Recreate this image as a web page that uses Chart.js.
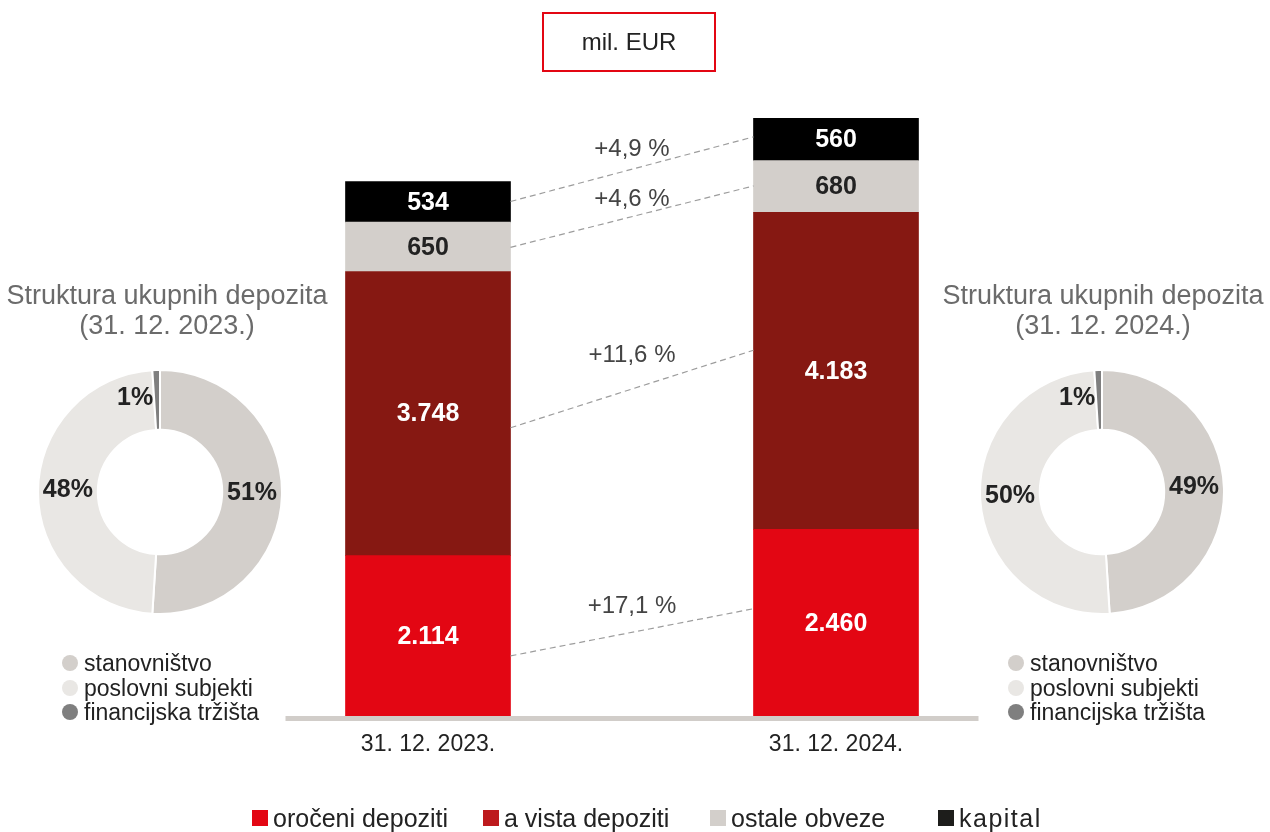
<!DOCTYPE html>
<html>
<head>
<meta charset="utf-8">
<script src="https://cdn.jsdelivr.net/npm/chart.js@4.4.1/dist/chart.umd.min.js"></script>
<style>
  body { margin: 0; width: 1270px; height: 832px; position: relative; overflow: hidden; background: #fff;
         font-family: 'Liberation Sans', Arial, sans-serif; color: #222; }
  canvas { position: absolute; }
  #barChart { left: 0; top: 0; }
  #pieLeft { left: 37px; top: 369px; }
  #pieRight { left: 979px; top: 369px; }
  .unit { position: absolute; left: 542px; top: 12px; width: 170px; height: 56px; border: 2px solid #e30613;
          text-align: center; line-height: 56px; font-size: 24px; }
  .title { position: absolute; top: 280px; width: 340px; text-align: center; font-size: 27px; line-height: 30px;
           color: #6b6b6b; white-space: nowrap; }
  .pieLegend { position: absolute; top: 651px; font-size: 23px; line-height: 24.5px; white-space: nowrap; }
  .pieLegend div { display: flex; align-items: center; }
  .pieLegend span.dot { width: 16px; height: 16px; border-radius: 50%; margin-right: 6px; display: inline-block; }
  .barLegend { position: absolute; top: 806px; font-size: 25px; line-height: 24px; display: flex; align-items: center; white-space: nowrap; }
  .barLegend span.box { width: 16px; height: 16px; margin-right: 5px; display: inline-block; }
</style>
</head>
<body>
<canvas id="barChart" width="1270" height="832"></canvas>
<canvas id="pieLeft" width="246" height="246"></canvas>
<canvas id="pieRight" width="246" height="246"></canvas>
<div class="unit">mil. EUR</div>
<div class="title" style="left:-3px">Struktura ukupnih depozita<br>(31. 12. 2023.)</div>
<div class="title" style="left:933px">Struktura ukupnih depozita<br>(31. 12. 2024.)</div>
<div class="pieLegend" id="legLeft" style="left:62px"></div>
<div class="pieLegend" id="legRight" style="left:1008px"></div>
<div id="barLegend"></div>
<script>
// bar chart data (mil. EUR)
const dates = ['31. 12. 2023.', '31. 12. 2024.'];
const seriesNames = ['oročeni depoziti', 'a vista depoziti', 'ostale obveze', 'kapital'];
const orocheni = [2114, 2460];
const aVista = [3748, 4183];
const ostale = [650, 680];
const kapital = [534, 560];
const growth = ['+17,1 %', '+11,6 %', '+4,6 %', '+4,9 %'];

// deposit structure (%)
const pieNames = ['stanovništvo', 'poslovni subjekti', 'financijska tržišta'];
const pie2023 = [51, 48, 1];
const pie2024 = [49, 50, 1];

const barColors = ['#e30613', '#861812', '#d3cfcb', '#000000'];
const legendColors = ['#e30613', '#bd1a1d', '#d3cfcb', '#1d1d1b'];
const valueColors = ['#ffffff', '#ffffff', '#222222', '#ffffff'];
const pieColors = ['#d3cfcb', '#e9e7e4', '#7f7f7f'];
const FONT = "'Liberation Sans', Arial, sans-serif";

// dashed connector anchors (fraction of segment height, from the bottom)
const linkFrom = [0.375, 0.45, 0.49, 0.51];
const linkTo = [0.575, 0.565, 0.51, 0.56];
const labelLift = [26, 34, 17, 20];

function fmt(v) {
    return String(v).replace(/\B(?=(\d{3})+(?!\d))/g, '.');
}

const baseLine = {
    id: 'baseLine',
    beforeDatasetsDraw(chart) {
        const ctx = chart.ctx;
        const xs = chart.scales.x;
        const left = xs.getPixelForValue(0) - 142.5;
        const right = xs.getPixelForValue(1) + 142.5;
        ctx.save();
        ctx.fillStyle = '#d1cdc9';
        ctx.fillRect(left, chart.chartArea.bottom, right - left, 5);
        ctx.restore();
    }
};

const barValues = {
    id: 'barValues',
    afterDatasetsDraw(chart) {
        const ctx = chart.ctx;
        ctx.save();
        ctx.font = 'bold 25px ' + FONT;
        ctx.textAlign = 'center';
        ctx.textBaseline = 'middle';
        chart.data.datasets.forEach((ds, i) => {
            chart.getDatasetMeta(i).data.forEach((bar, j) => {
                ctx.fillStyle = valueColors[i];
                ctx.fillText(fmt(ds.data[j]), bar.x, (bar.y + bar.base) / 2 + 1);
            });
        });

        // growth connectors
        ctx.font = '24px ' + FONT;
        chart.data.datasets.forEach((ds, i) => {
            const [b1, b2] = chart.getDatasetMeta(i).data;
            const x1 = b1.x + b1.width / 2;
            const y1 = b1.base + (b1.y - b1.base) * linkFrom[i];
            const x2 = b2.x - b2.width / 2;
            const y2 = b2.base + (b2.y - b2.base) * linkTo[i];
            ctx.strokeStyle = '#9d9d9d';
            ctx.lineWidth = 1.2;
            ctx.setLineDash([6, 4]);
            ctx.beginPath();
            ctx.moveTo(x1, y1);
            ctx.lineTo(x2, y2);
            ctx.stroke();
            ctx.fillStyle = '#444';
            ctx.fillText(growth[i], (x1 + x2) / 2, (y1 + y2) / 2 - labelLift[i]);
        });
        ctx.restore();
    }
};

new Chart(document.getElementById('barChart'), {
    type: 'bar',
    data: {
        labels: dates,
        datasets: [orocheni, aVista, ostale, kapital].map((d, i) => ({
            label: seriesNames[i],
            data: d,
            backgroundColor: barColors[i],
            borderWidth: 0,
            barThickness: 165
        }))
    },
    options: {
        responsive: false,
        animation: false,
        events: [],
        layout: { padding: { left: 224, right: 230, top: 79, bottom: 66 } },
        plugins: { legend: { display: false }, tooltip: { enabled: false } },
        scales: {
            x: {
                stacked: true,
                offset: true,
                grid: { display: false, drawTicks: false },
                border: { display: false },
                ticks: { color: '#222', font: { family: FONT, size: 23 }, padding: 15 },
                afterFit(scale) { scale.height = 50; }
            },
            y: { stacked: true, display: false, min: 0, max: 8400 }
        }
    },
    plugins: [baseLine, barValues]
});

const pieLabels = {
    id: 'pieLabels',
    afterDatasetsDraw(chart) {
        const ctx = chart.ctx;
        const values = chart.data.datasets[0].data;
        ctx.save();
        ctx.font = 'bold 25px ' + FONT;
        ctx.fillStyle = '#222';
        ctx.textBaseline = 'middle';
        chart.getDatasetMeta(0).data.forEach((arc, i) => {
            const p = arc.getCenterPoint();
            if (values[i] < 5) {
                ctx.textAlign = 'right';
                ctx.fillText(values[i] + '%', p.x - 4, p.y - 2);
            } else {
                ctx.textAlign = 'center';
                ctx.fillText(values[i] + '%', p.x, p.y - 2);
            }
        });
        ctx.restore();
    }
};

function drawPie(id, values) {
    new Chart(document.getElementById(id), {
        type: 'doughnut',
        data: {
            labels: pieNames,
            datasets: [{ data: values, backgroundColor: pieColors, borderColor: '#fff', borderWidth: 2 }]
        },
        options: {
            responsive: false,
            animation: false,
            events: [],
            cutout: '51%',
            plugins: { legend: { display: false }, tooltip: { enabled: false } }
        },
        plugins: [pieLabels]
    });
}
drawPie('pieLeft', pie2023);
drawPie('pieRight', pie2024);

// legends
['legLeft', 'legRight'].forEach(id => {
    const el = document.getElementById(id);
    pieNames.forEach((name, i) => {
        const row = document.createElement('div');
        row.innerHTML = '<span class="dot" style="background:' + pieColors[i] + '"></span>' + name;
        el.appendChild(row);
    });
});

const legendLeft = [252, 483, 710, 938];
const legHolder = document.getElementById('barLegend');
seriesNames.forEach((name, i) => {
    const item = document.createElement('div');
    item.className = 'barLegend';
    item.style.left = legendLeft[i] + 'px';
    if (i === 3) item.style.letterSpacing = '1.5px';
    item.innerHTML = '<span class="box" style="background:' + legendColors[i] + '"></span>' + name;
    legHolder.appendChild(item);
});
</script>
</body>
</html>
